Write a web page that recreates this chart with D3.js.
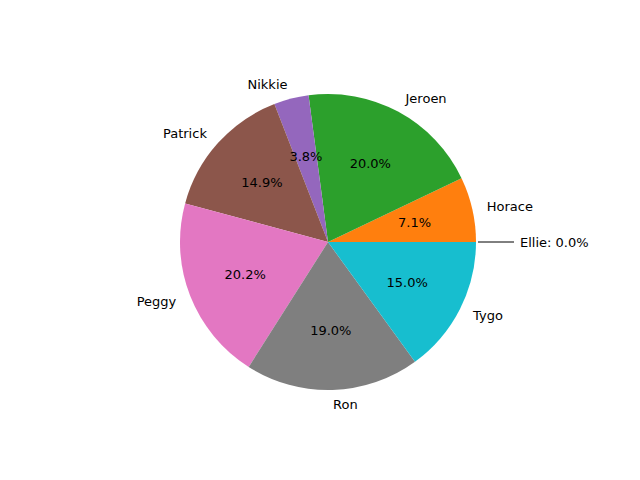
<!DOCTYPE html>
<html><head><meta charset="utf-8">
<script src="https://cdn.jsdelivr.net/npm/d3@7"></script>
<style>body{margin:0;background:#fff}</style></head>
<body><svg id="c" width="640" height="480"></svg>
<script>
const names = ['Ellie','Horace','Jeroen','Nikkie','Patrick','Peggy','Ron','Tygo'];
const values = [0.0, 7.1, 20.0, 3.8, 14.9, 20.2, 19.0, 15.0];
const colors = ['#1f77b4','#ff7f0e','#2ca02c','#9467bd','#8c564b','#e377c2','#7f7f7f','#17becf'];

const cx = 328, cy = 242, r = 148;
const svg = d3.select('#c');
const g = svg.append('g').attr('transform', `translate(${cx},${cy})`);
const pie = d3.pie().sort(null).value(d => d).startAngle(Math.PI/2).endAngle(Math.PI/2 - 2*Math.PI);
const arcs = pie(values);
const arc = d3.arc().innerRadius(0).outerRadius(r);
const font = 'DejaVu Sans, sans-serif';

g.selectAll('path').data(arcs).enter().append('path')
  .attr('d', arc).attr('fill', (d, i) => colors[i]);

const pos = (a, k) => [k * r * Math.sin(a), -k * r * Math.cos(a)];

arcs.forEach((d, i) => {
  const a = (d.startAngle + d.endAngle) / 2;
  if (values[i] === 0) {
    g.append('line').attr('x1', r + 2).attr('x2', r + 38).attr('y1', 0).attr('y2', 0)
      .attr('stroke', '#000').attr('stroke-width', 1);
    g.append('text').attr('x', r + 44).attr('y', 0).attr('dy', '0.35em')
      .attr('font-family', font).attr('font-size', 13)
      .text(names[i] + ': ' + values[i].toFixed(1) + '%');
    return;
  }
  const [lx, ly] = pos(a, 1.1);
  g.append('text').attr('x', lx).attr('y', ly).attr('dy', '0.35em')
    .attr('text-anchor', lx > 0 ? 'start' : 'end')
    .attr('font-family', font).attr('font-size', 13).text(names[i]);
  const [px, py] = pos(a, 0.6);
  g.append('text').attr('x', px).attr('y', py).attr('dy', '0.35em')
    .attr('text-anchor', 'middle')
    .attr('font-family', font).attr('font-size', 13).text(values[i].toFixed(1) + '%');
});
</script></body></html>
